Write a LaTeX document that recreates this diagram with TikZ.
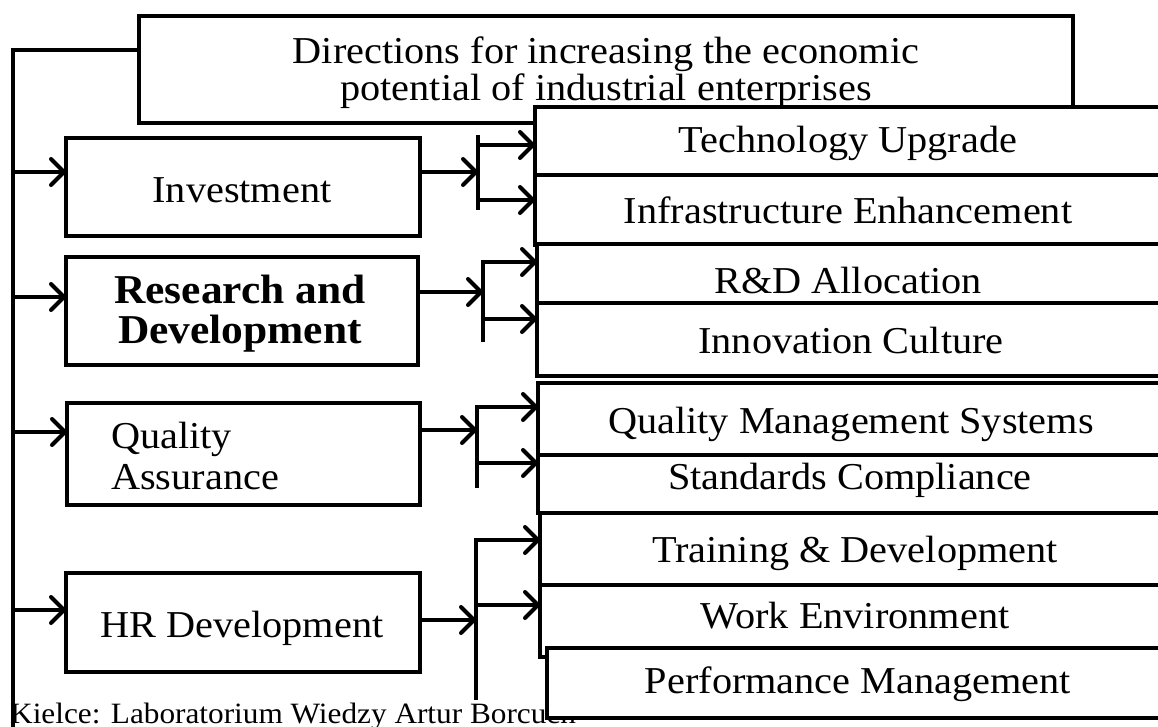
\documentclass[tikz,border=0pt]{standalone}
\usepackage{fontspec}
\setmainfont{Liberation Serif}[FakeStretch=1.06]
\usetikzlibrary{arrows.meta}

\begin{document}
\begin{tikzpicture}[x=1pt,y=-1pt,
  line/.style={line width=4pt},
  arr/.style={line width=4pt,-{Straight Barb[length=13pt,width=26pt,round]}},
  box/.style 2 args={draw,line width=4pt,fill=white,rectangle,inner sep=0pt,
    outer sep=0pt,anchor=north west,minimum width=#1,minimum height=#2},
  txt/.style={anchor=base,inner sep=0pt,font=\fontsize{38}{44}\selectfont},
  txtb/.style={txt,font=\fontsize{41}{46}\selectfont\bfseries},
  note/.style={anchor=base west,inner sep=0pt,font=\fontsize{29.5}{32}\selectfont}]
\useasboundingbox (0,0) rectangle (1158,726);

% title block
\node[box={934pt}{107pt}] (title) at (139,16) {};
\node[txt] (title-a) at (606,63) {Directions for increasing the economic};
\node[txt] (title-b) at (606,100) {potential of industrial enterprises};

% main directions
\node[box={354pt}{98pt}] (inv) at (66,138) {};
\node[txt] (inv-t) at (242,202) {Investment};
\node[box={352pt}{108pt}] (rd) at (66,257) {};
\node[txtb] (rd-t1) at (240,303) {Research and};
\node[txtb] (rd-t2) at (240,343) {Development};
\node[box={353pt}{102pt}] (qa) at (67,403) {};
\node[txt,anchor=base west] (qa-t1) at (111,448) {Quality};
\node[txt,anchor=base west] (qa-t2) at (111,489) {Assurance};
\node[box={354pt}{99pt}] (hr) at (66,573) {};
\node[txt] (hr-t) at (242,637) {HR Development};

% trunk on the left
\coordinate (trunktop) at (13,50);
\coordinate (trunkbot) at (13,730);
\draw[line] (title.west |- trunktop) -- (trunktop) -- (trunkbot);
\coordinate (ti) at (13,172);
\coordinate (tr) at (13,297);
\coordinate (tq) at (13,432);
\coordinate (th) at (13,610);
\draw[arr] (ti) -- (ti -| inv.west);
\draw[arr] (tr) -- (tr -| rd.west);
\draw[arr] (tq) -- (tq -| qa.west);
\draw[arr] (th) -- (th -| hr.west);

% source line
\node[note] (src) at (10,723) {Kielce: Laboratorium Wiedzy Artur Borcuch};

% detailed measures
\node[box={628pt}{68pt}] (tech) at (535,107) {};
\node[txt] (tech-t) at (848,152) {Technology Upgrade};
\node[box={628pt}{70pt}] (infra) at (535,175) {};
\node[txt] (infra-t) at (848,223) {Infrastructure Enhancement};
\node[box={626pt}{59pt}] (rnda) at (537,244) {};
\node[txt] (rnda-t) at (848,293) {R\&D Allocation};
\node[box={626pt}{73pt}] (innov) at (537,303) {};
\node[txt] (innov-t) at (851,353) {Innovation Culture};
\node[box={625pt}{72pt}] (qms) at (538,383) {};
\node[txt] (qms-t) at (851,433) {Quality Management Systems};
\node[box={625pt}{58pt}] (std) at (538,455) {};
\node[txt] (std-t) at (850,489) {Standards Compliance};
\node[box={623pt}{72pt}] (train) at (540,513) {};
\node[txt] (train-t) at (855,562) {Training \& Development};
\node[box={623pt}{72pt}] (work) at (540,585) {};
\node[txt] (work-t) at (855,628) {Work Environment};
\node[box={616pt}{70pt}] (perf) at (547,648) {};
\node[txt] (perf-t) at (858,693) {Performance Management};

% Investment fork
\coordinate (fi) at (478,172);
\draw[arr] (fi -| inv.east) -- (fi);
\draw[line] (478,135) -- (478,210);
\coordinate (fi1) at (478,145);
\coordinate (fi2) at (478,200);
\draw[arr] (fi1) -- (fi1 -| tech.west);
\draw[arr] (fi2) -- (fi2 -| infra.west);

% R&D fork
\coordinate (fr) at (483,292);
\coordinate (fr1) at (483,262);
\coordinate (fr2) at (483,319);
\coordinate (frb) at (483,342);
\draw[arr] (fr -| rd.east) -- (fr);
\draw[arr] (frb) -- (fr1) -- (fr1 -| rnda.west);
\draw[arr] (fr2) -- (fr2 -| innov.west);

% Quality fork
\coordinate (fq) at (477,430);
\coordinate (fq1) at (477,407);
\coordinate (fq2) at (477,463);
\coordinate (fqb) at (477,488);
\draw[arr] (fq -| qa.east) -- (fq);
\draw[arr] (fqb) -- (fq1) -- (fq1 -| qms.west);
\draw[arr] (fq2) -- (fq2 -| std.west);

% HR fork
\coordinate (fh) at (476,620);
\coordinate (fh1) at (476,540);
\coordinate (fh2) at (476,605);
\coordinate (fhb) at (476,700);
\draw[arr] (fh -| hr.east) -- (fh);
\draw[arr] (fhb) -- (fh1) -- (fh1 -| train.west);
\draw[arr] (fh2) -- (fh2 -| work.west);
\end{tikzpicture}
\end{document}
